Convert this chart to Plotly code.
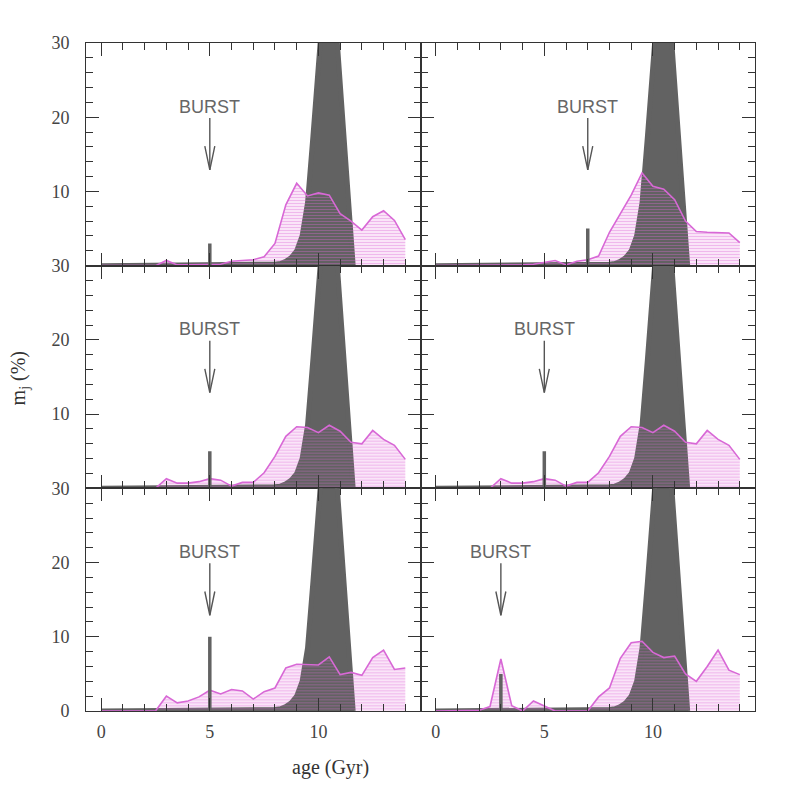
import plotly.graph_objects as go
from plotly.subplots import make_subplots

# ages of the recovered SFH bins (Gyr)
ages = [0.0, 0.5, 1.0, 1.5, 2.0, 2.5, 3.0, 3.5, 4.0, 4.5, 5.0, 5.5, 6.0, 6.5, 7.0,
        7.5, 8.0, 8.5, 9.0, 9.5, 10.0, 10.5, 11.0, 11.5, 12.0, 12.5, 13.0, 13.5, 14.0]

# recovered mass fractions m_j (%) in each panel
mj_p1 = [0, 0, 0, 0, 0, 0, 0.7, 0.1, 0.1, 0.1, 0.1, 0.2, 0.6, 0.7, 0.8,
         1.2, 3.0, 8.2, 11.1, 9.4, 9.8, 9.5, 7.0, 6.0, 4.8, 6.6, 7.4, 6.1, 3.5]
mj_p2 = [0, 0, 0, 0, 0, 0, 0.1, 0.1, 0.1, 0.2, 0.5, 0.7, 0.1, 0.6, 0.8,
         1.3, 4.5, 7.0, 9.5, 12.5, 10.7, 10.3, 8.9, 6.0, 4.6, 4.5, 4.5, 4.4, 3.1]
mj_p3 = [0, 0, 0, 0, 0, 0, 1.3, 0.7, 0.7, 0.9, 1.3, 1.1, 0.3, 0.8, 0.8,
         2.1, 4.3, 7.0, 8.3, 8.2, 7.5, 8.5, 7.7, 6.2, 6.0, 7.8, 6.6, 5.8, 3.9]
mj_p4 = [0, 0, 0, 0, 0, 0, 1.3, 0.7, 0.7, 0.9, 1.3, 1.1, 0.3, 0.8, 0.8,
         2.1, 4.3, 7.0, 8.3, 8.2, 7.5, 8.5, 7.7, 6.2, 6.0, 7.8, 6.6, 5.8, 3.9]
mj_p5 = [0, 0, 0, 0, 0, 0, 2.0, 1.1, 1.35, 1.9, 2.8, 2.3, 2.9, 2.7, 1.6,
         2.6, 3.1, 5.8, 6.3, 6.3, 6.2, 7.3, 4.9, 5.2, 4.8, 7.2, 8.2, 5.6, 5.8]
mj_p6 = [0, 0, 0, 0, 0.1, 0.6, 7.0, 0.7, 0, 1.35, 0.7, 0, 0, 0, 0,
         1.9, 3.1, 7.1, 9.2, 9.4, 7.9, 7.2, 7.4, 5.0, 4.0, 6.0, 8.2, 5.5, 4.9]

# input old population (same in every panel)
old_age = [0.0, 7.5, 8.0, 8.25, 8.5, 8.75, 9.0, 9.25, 9.5, 9.75, 10.0, 10.25,
           10.5, 10.75, 11.0, 11.25, 11.5, 11.6]
old_mj = [0, 0.05, 0.2, 0.3, 0.6, 1.1, 2.0, 4.0, 8.5, 17.5, 28, 40,
          46, 35, 24, 13, 2.5, 0]

# input burst in each panel
burst_age = [5, 7, 5, 5, 5, 3]
burst_mj = [3, 5, 5, 5, 10, 5]

panels = [(1, 1, mj_p1), (1, 2, mj_p2), (2, 1, mj_p3),
          (2, 2, mj_p4), (3, 1, mj_p5), (3, 2, mj_p6)]

DARK = "#626262"
MAG = "#d868d6"
PINK = "#fae4f8"
TICKFONT = dict(family="Liberation Serif", size=18, color="#444444")

fig = make_subplots(rows=3, cols=2, horizontal_spacing=0, vertical_spacing=0)

for i, (r, c, mj) in enumerate(panels):
    # pink background under everything
    fig.add_trace(go.Scatter(x=ages, y=mj, mode="lines", fill="tozeroy",
                             fillcolor=PINK, line=dict(width=0), hoverinfo="skip"),
                  row=r, col=c)
    # old population
    fig.add_trace(go.Scatter(x=old_age, y=old_mj, mode="lines", fill="tozeroy",
                             fillcolor=DARK, line=dict(color=DARK, width=5)),
                  row=r, col=c)
    # hatched recovered SFH
    fig.add_trace(go.Scatter(x=ages, y=mj, mode="lines", fill="tozeroy",
                             fillcolor="rgba(0,0,0,0)",
                             fillpattern=dict(shape="-", fgcolor="rgba(218,104,214,0.72)",
                                              bgcolor="rgba(0,0,0,0)", size=3, solidity=0.34),
                             line=dict(color=MAG, width=1.6)),
                  row=r, col=c)
    # burst bar
    bx, bh = burst_age[i], burst_mj[i]
    fig.add_trace(go.Scatter(x=[bx, bx], y=[0, bh], mode="lines",
                             line=dict(color=DARK, width=3.5)),
                  row=r, col=c)
    # arrow pointing to the burst
    fig.add_trace(go.Scatter(x=[bx, bx, None, bx - 0.23, bx, bx + 0.23],
                             y=[19.9, 12.9, None, 16.1, 12.9, 16.1], mode="lines",
                             line=dict(color="#555555", width=1.4)),
                  row=r, col=c)
    fig.add_annotation(x=bx, y=21.4, text="BURST", showarrow=False,
                       font=dict(family="Liberation Sans", size=18, color="#666666"),
                       row=r, col=c)

for r in (1, 2, 3):
    for c in (1, 2):
        fig.update_xaxes(range=[-0.7, 14.7], tickmode="array", tickvals=[0, 5, 10],
                         ticks="inside", ticklen=13, tickcolor="#333333",
                         showline=True, linecolor="#333333", linewidth=1, mirror="allticks",
                         showgrid=False, zeroline=False,
                         minor=dict(dtick=1, ticks="inside", ticklen=7, tickcolor="#333333",
                                    showgrid=False),
                         showticklabels=(r == 3), ticklabelstandoff=4,
                         tickfont=TICKFONT, row=r, col=c)
        fig.update_yaxes(range=[0, 30], tickmode="array", tickvals=[0, 10, 20, 30],
                         ticktext=["0" if r == 3 else "", "10", "20", "30"],
                         ticks="inside", ticklen=13, tickcolor="#333333",
                         showline=True, linecolor="#333333", linewidth=1, mirror="allticks",
                         showgrid=False, zeroline=False,
                         minor=dict(dtick=2, ticks="inside", ticklen=7, tickcolor="#333333",
                                    showgrid=False),
                         showticklabels=(c == 1), ticklabelstandoff=12,
                         tickfont=TICKFONT, row=r, col=c)

fig.add_annotation(xref="paper", yref="paper", x=0.365, y=-0.085, text="age (Gyr)",
                   xanchor="center", yanchor="middle", showarrow=False,
                   font=dict(family="Liberation Serif", size=20, color="#333333"))
fig.add_annotation(xref="paper", yref="paper", x=-0.1, y=0.498, text="m<sub>j</sub> (%)",
                   xanchor="center", yanchor="middle", textangle=-90, showarrow=False,
                   font=dict(family="Liberation Serif", size=20, color="#333333"))

fig.update_layout(width=797, height=797, showlegend=False,
                  margin=dict(l=78, r=50, t=35, b=94),
                  paper_bgcolor="white", plot_bgcolor="white")

fig.write_html("out.html")
